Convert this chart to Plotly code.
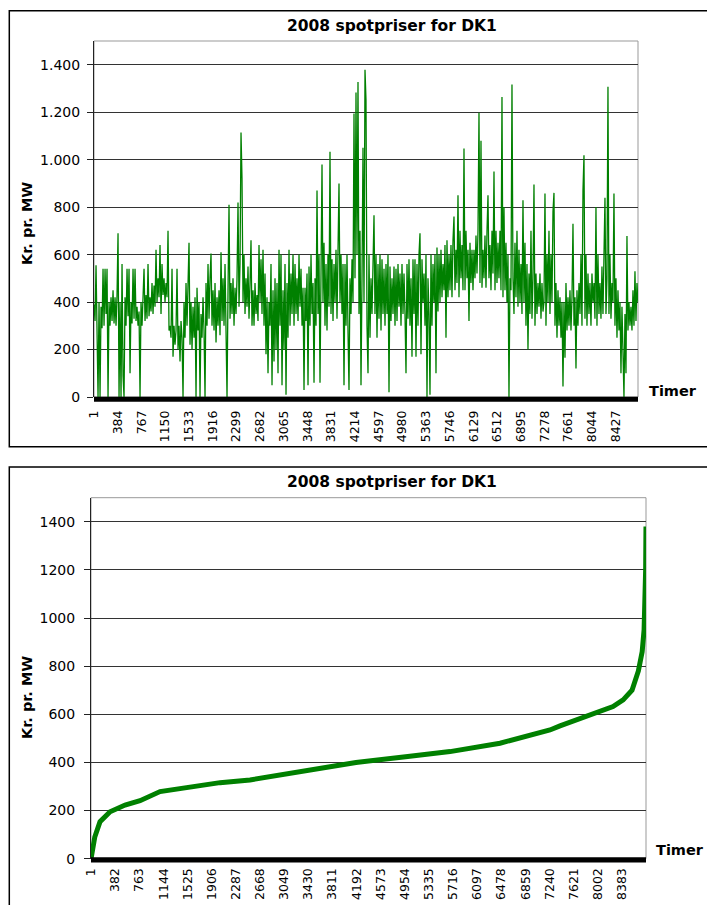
import numpy as np
import plotly.graph_objects as go

# Hourly spot prices 2008, DK1 (about one value every 16 hours)
hourly_values = [
    390, 320, 555, 300, 0, 400, 0, 380, 290, 540,
    300, 540, 350, 540, 0, 400, 300, 420, 320, 450,
    310, 420, 300, 430, 690, 0, 400, 0, 560, 90,
    0, 420, 300, 540, 340, 540, 100, 400, 310, 540,
    330, 540, 320, 380, 300, 360, 0, 400, 300, 420,
    540, 320, 430, 330, 560, 340, 420, 360, 480, 350,
    470, 380, 620, 400, 500, 420, 640, 350, 560, 430,
    500, 400, 480, 420, 700, 280, 300, 250, 540, 170,
    300, 220, 280, 540, 200, 300, 150, 320, 250, 0,
    400, 250, 480, 300, 450, 650, 220, 400, 200, 380,
    250, 420, 0, 460, 280, 400, 0, 350, 250, 420,
    280, 0, 480, 300, 560, 330, 500, 605, 300, 450,
    280, 480, 230, 420, 300, 450, 260, 610, 320, 500,
    300, 560, 280, 0, 450, 810, 330, 480, 350, 500,
    300, 460, 350, 500, 820, 380, 560, 1114, 920, 400,
    600, 350, 500, 380, 550, 330, 480, 660, 300, 450,
    300, 480, 350, 430, 320, 640, 400, 580, 350, 620,
    300, 520, 180, 420, 100, 400, 300, 560, 50, 450,
    150, 500, 200, 480, 100, 620, 300, 600, 50, 450,
    200, 560, 10, 480, 250, 620, 300, 520, 350, 600,
    300, 560, 350, 500, 320, 600, 380, 540, 300, 460,
    30, 460, 320, 520, 50, 550, 300, 600, 350, 480,
    60, 500, 300, 870, 350, 600, 60, 550, 980, 400,
    650, 300, 560, 280, 600, 380, 1033, 350, 580, 320,
    560, 400, 620, 330, 580, 900, 400, 600, 350, 560,
    50, 560, 300, 600, 280, 30, 500, 350, 580, 400,
    1194, 500, 1283, 600, 1327, 350, 700, 50, 500, 1050,
    400, 1379, 1250, 300, 100, 600, 250, 500, 350, 600,
    766, 350, 600, 250, 560, 330, 600, 280, 580, 350,
    540, 300, 560, 350, 600, 20, 550, 320, 500, 350,
    550, 300, 540, 320, 560, 380, 520, 300, 560, 350,
    520, 350, 100, 560, 330, 580, 300, 500, 170, 580,
    350, 580, 170, 560, 300, 600, 690, 180, 580, 400,
    520, 300, 600, 0, 500, 350, 10, 600, 300, 560,
    400, 600, 100, 630, 360, 600, 400, 620, 420, 560,
    450, 640, 250, 660, 420, 600, 450, 640, 420, 660,
    760, 450, 620, 480, 850, 420, 700, 500, 640, 450,
    1047, 450, 700, 500, 620, 320, 650, 480, 620, 450,
    620, 500, 680, 520, 700, 1198, 480, 1080, 460, 620,
    500, 680, 460, 700, 850, 500, 640, 450, 700, 520,
    950, 450, 700, 480, 650, 500, 700, 450, 1264, 420,
    800, 450, 650, 400, 600, 0, 500, 450, 1317, 500,
    350, 650, 420, 700, 380, 620, 400, 560, 350, 829,
    400, 650, 300, 560, 200, 520, 350, 700, 330, 500,
    895, 300, 520, 350, 480, 380, 520, 330, 480, 360,
    400, 857, 300, 600, 400, 700, 350, 600, 400, 781,
    860, 300, 480, 250, 450, 300, 420, 250, 400, 44,
    400, 165, 480, 280, 420, 300, 450, 280, 420, 730,
    300, 420, 120, 450, 300, 480, 350, 600, 300, 871,
    1019, 330, 600, 300, 520, 350, 480, 300, 520, 400,
    480, 330, 800, 300, 600, 350, 480, 330, 550, 350,
    600, 840, 350, 500, 1307, 350, 600, 330, 480, 400,
    857, 300, 500, 250, 450, 280, 400, 100, 380, 200,
    0, 350, 100, 678, 280, 400, 300, 380, 280, 450,
    300, 530, 320, 480, 400,
]
hours = np.linspace(1, 8784, len(hourly_values))

# Duration curve (sorted prices)
sorted_hours = [1, 20, 60, 143, 301, 538, 774, 1090, 1406, 1721, 2037, 2510,
                3300, 4183, 5000, 5667, 6456, 7245, 7403, 7924, 8240, 8400,
                8540, 8640, 8700, 8730, 8745, 8755, 8760]
sorted_values = [0, 30, 90, 154, 195, 223, 241, 279, 293, 306, 316, 327,
                 360, 400, 425, 445, 480, 535, 552, 605, 632, 660,
                 700, 780, 860, 950, 1040, 1200, 1380]

top_tickvals = list(range(1, 8785, 383))
top_ticktext = [str(v) for v in top_tickvals]
bottom_tickvals = list(range(1, 8761, 381))
bottom_ticktext = [str(v) for v in bottom_tickvals]

W, H = 707, 905
def px(x):
    return x / W
def py(y):
    return 1 - y / H

GREEN = "#008000"
FONT = "Verdana, DejaVu Sans, sans-serif"

fig = go.Figure()
fig.add_trace(go.Scatter(x=hours, y=hourly_values, mode="lines",
                         line=dict(color=GREEN, width=1.3),
                         xaxis="x", yaxis="y", showlegend=False,
                         hoverinfo="skip"))
fig.add_trace(go.Scatter(x=sorted_hours, y=sorted_values, mode="lines",
                         line=dict(color=GREEN, width=5),
                         xaxis="x2", yaxis="y2", showlegend=False,
                         hoverinfo="skip"))

top_dom_x = [px(94), px(638)]
top_dom_y = [py(397), py(41)]
bot_dom_x = [px(91), px(646)]
bot_dom_y = [py(858.7), py(497.7)]

xcommon = dict(showgrid=False, zeroline=False, showline=False, ticks="",
               tickangle=-90, automargin=False,
               tickfont=dict(family=FONT, size=12.5, color="#000"))
ycommon = dict(range=[0, 1500], tickvals=list(range(0, 1401, 200)),
               showgrid=True, gridcolor="#333", gridwidth=1, zeroline=False,
               showline=True, linecolor="#222", linewidth=1, automargin=False,
               ticks="outside", ticklen=6, tickcolor="#222",
               tickfont=dict(family=FONT, size=14, color="#000"))

fig.update_layout(
    width=W, height=H, margin=dict(l=0, r=0, t=0, b=0, autoexpand=False),
    paper_bgcolor="white", plot_bgcolor="white",
    separators=",.",
    xaxis=dict(domain=top_dom_x, anchor="y", range=[0.5, 8784.5],
               tickvals=top_tickvals, ticktext=top_ticktext,
               ticklabelstandoff=10, **xcommon),
    yaxis=dict(domain=top_dom_y, anchor="x", separatethousands=True,
               ticklabelstandoff=4, **ycommon),
    xaxis2=dict(domain=bot_dom_x, anchor="y2", range=[0.5, 8760.5],
                tickvals=bottom_tickvals, ticktext=bottom_ticktext,
                ticklabelstandoff=6, **xcommon),
    yaxis2=dict(domain=bot_dom_y, anchor="x2", separatethousands=False,
                ticklabelstandoff=6, **ycommon),
)

shapes = []
# outer chart frames
shapes.append(dict(type="rect", xref="paper", yref="paper",
                   x0=px(9.3), x1=px(720), y0=py(446.7), y1=py(10.7),
                   line=dict(color="#000", width=1.5), layer="below"))
shapes.append(dict(type="rect", xref="paper", yref="paper",
                   x0=px(9.3), x1=px(720), y0=py(920), y1=py(467),
                   line=dict(color="#000", width=1.5), layer="below"))
# plot-area borders (gray)
for dx, dy in ((top_dom_x, top_dom_y), (bot_dom_x, bot_dom_y)):
    shapes.append(dict(type="rect", xref="paper", yref="paper",
                       x0=dx[0], x1=dx[1], y0=dy[0], y1=dy[1],
                       line=dict(color="#999", width=1), layer="below"))
# dense category tick band under the x axes
shapes.append(dict(type="rect", xref="paper", yref="paper",
                   x0=top_dom_x[0], x1=top_dom_x[1], y0=py(401.8), y1=py(396.8),
                   fillcolor="#000", line=dict(width=0)))
shapes.append(dict(type="rect", xref="paper", yref="paper",
                   x0=bot_dom_x[0], x1=bot_dom_x[1], y0=py(862.5), y1=py(857.2),
                   fillcolor="#000", line=dict(width=0)))
fig.update_layout(shapes=shapes)

bold = dict(family=FONT, size=14.5, color="#000")
ann = []
for title_y, ylab_y, timer_x, timer_y in ((26, 224, 673, 391), (481.5, 698, 680, 850)):
    ann.append(dict(text="<b>2008 spotpriser for DK1</b>", x=px(392), y=py(title_y),
                    xref="paper", yref="paper", showarrow=False,
                    xanchor="center", yanchor="middle",
                    font=dict(family=FONT, size=15.5, color="#000")))
    ann.append(dict(text="<b>Kr. pr. MW</b>", x=px(27), y=py(ylab_y),
                    xref="paper", yref="paper", showarrow=False, textangle=-90,
                    xanchor="center", yanchor="middle", font=bold))
    ann.append(dict(text="<b>Timer</b>", x=px(timer_x), y=py(timer_y),
                    xref="paper", yref="paper", showarrow=False,
                    xanchor="center", yanchor="middle", font=bold))
fig.update_layout(annotations=ann)

fig.write_html("out.html", config={"displayModeBar": False},
               post_script="document.body.style.margin='0';document.body.style.overflow='hidden';")
